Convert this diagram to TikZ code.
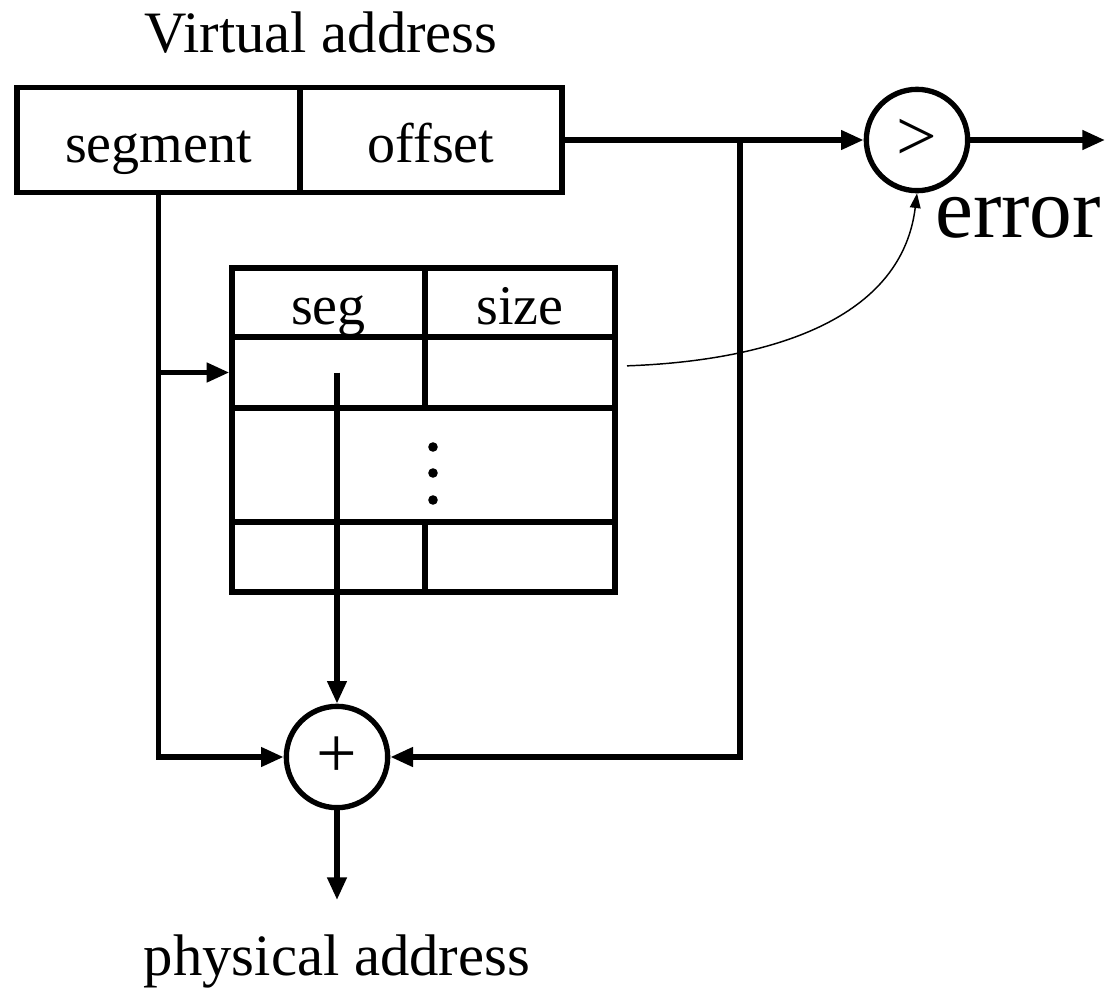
\documentclass[tikz,border=0pt]{standalone}
\usepackage{fontspec}
\setmainfont{Liberation Serif}
\usetikzlibrary{arrows.meta}
\tikzset{ cell/.style = { rectangle
                        , draw
                        , line width  = 4pt
                        , inner sep   = 0pt
                        , text height = 37.8pt
                        , text depth  = 4.2pt
                        , font        = \fontsize{42}{50}\selectfont
                        },
          op/.style   = { circle
                        , draw
                        , line width   = 4pt
                        , inner sep    = 0pt
                        , minimum size = 76pt
                        , font         = \fontsize{54}{60}\selectfont
                        },
          link/.style = { line width = 4pt
                        , -{Triangle[length=17pt,width=14pt]}
                        },
          thin link/.style = { line width = 1.1pt
                             , -{Triangle[length=11pt,width=8pt]}
                             },
          lbl/.style  = { font = \fontsize{44}{50}\selectfont }
        }
\begin{document}
\begin{tikzpicture}[x=0.75pt, y=-0.75pt]
  \useasboundingbox (0,0) rectangle (1107,1000);
  % virtual address
  \node[lbl, anchor=base] (va) at (321,52) {Virtual address};
  \node[cell, minimum width=212.25pt, minimum height=78.75pt] (seg) at (158.5,140) {segment};
  \node[cell, minimum width=196.5pt, minimum height=78.75pt] (off) at (431,140) {offset};
  % segment table
  \node[cell, minimum width=144.75pt, minimum height=51.75pt] (hseg)  at (328.5,302.5) {seg};
  \node[cell, minimum width=142.5pt,  minimum height=51.75pt] (hsize) at (520,302.5) {size};
  \node[cell, minimum width=144.75pt, minimum height=53.25pt] (r1a) at (328.5,372.5) {};
  \node[cell, minimum width=142.5pt,  minimum height=53.25pt] (r1b) at (520,372.5) {};
  \node[cell, minimum width=287.25pt, minimum height=85.5pt]  (mid) at (423.5,465) {};
  \node[cell, minimum width=144.75pt, minimum height=52.5pt]  (r3a) at (328.5,557) {};
  \node[cell, minimum width=142.5pt,  minimum height=52.5pt]  (r3b) at (520,557) {};
  \foreach \y in {447,473,500}
    \fill (433,\y) circle (3.6pt);
  % operators
  \node[op] (gt)   at (917,140) {>};
  \node[op] (plus) at (337,757) {+};
  \node[font=\fontsize{64}{70}\selectfont, anchor=base] (err) at (1018,237) {error};
  \node[lbl, anchor=base] (pa) at (337,975) {physical address};
  \coordinate (br)  at (740,140);
  \coordinate (out) at (1105,140);
  \coordinate (pout) at (337,900);
  \coordinate (j1) at (seg.south |- r1a.west);
  % connectors
  \draw[link] (seg.south) |- (r1a.west);
  \draw[link] (j1) |- (plus.west);
  \draw[link] (off.east) -- (gt.west);
  \draw[link] (gt.east) -- (out);
  \draw[link] (br) |- (plus.east);
  \draw[link] (plus |- r1a.center) -- (plus.north);
  \draw[link] (plus.south) -- (pout);
  \draw[thin link] ([xshift=7pt,yshift=5pt]r1b.east) to[out=2, in=-97] (gt.south);
\end{tikzpicture}
\end{document}
